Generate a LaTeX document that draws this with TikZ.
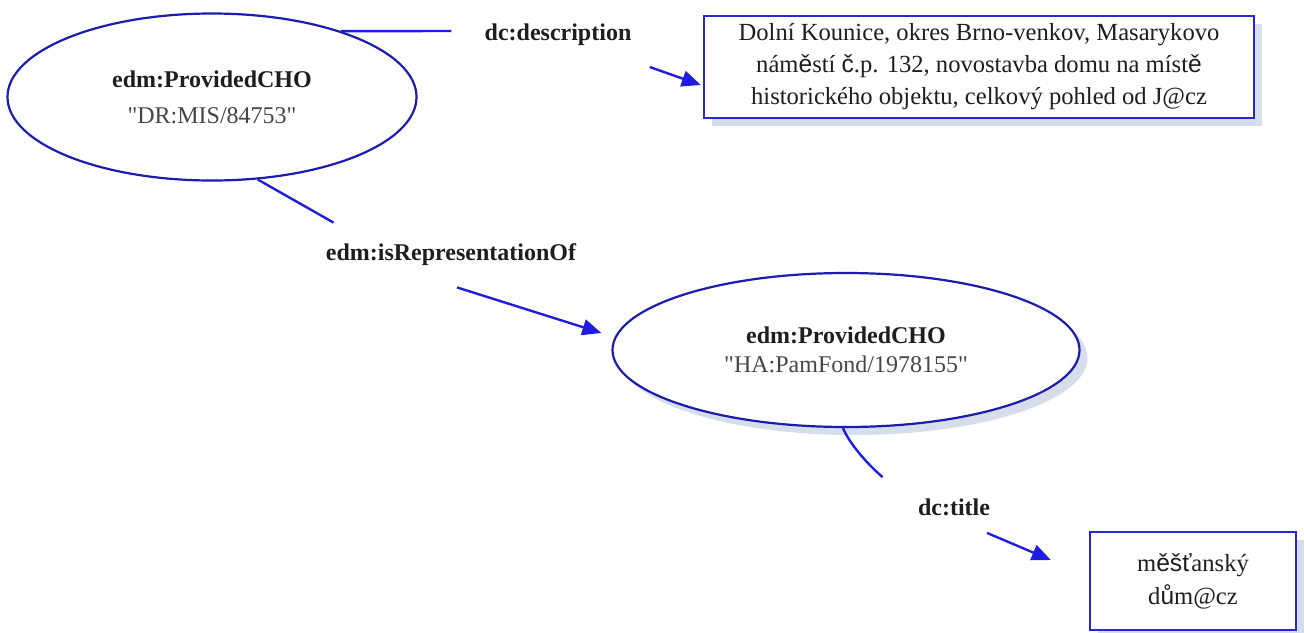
\documentclass[tikz,border=0pt]{standalone}
\usepackage{fontspec}
\setmainfont{Liberation Serif}[Ligatures=TeXOff]
\newfontfamily\fbk{Liberation Sans}
\usetikzlibrary{shapes.geometric,arrows.meta,shadows}
\definecolor{elc}{RGB}{28,28,175}
\definecolor{boxc}{RGB}{40,40,210}
\definecolor{arc}{RGB}{30,30,225}
\definecolor{shd}{RGB}{214,221,235}
\definecolor{labc}{RGB}{30,30,30}
\definecolor{valc}{RGB}{70,70,70}
\tikzset{
  resnode/.style={ellipse, draw=elc, line width=1.1pt, fill=white, inner sep=0pt, align=center,
    font=\fontsize{12}{14.4}\selectfont},
  litbox/.style={rectangle, draw=boxc, line width=1.2pt, fill=white, inner sep=0pt, align=center,
    text=labc},
  plabel/.style={font=\fontsize{12}{14.4}\selectfont\bfseries, text=labc, inner sep=0pt},
  link/.style={draw=arc, line width=1.2pt},
  linkarr/.style={link, -{Triangle[length=9.5pt,width=8pt]}},
  shad/.style={drop shadow={shadow xshift=4pt, shadow yshift=-4pt, fill=shd, opacity=1}},
}
\begin{document}
\begin{tikzpicture}[x=0.5pt,y=-0.5pt]
  \fill[white] (0,0) rectangle (1304,632);
  \useasboundingbox (0,0) rectangle (1304,632);

  % resource nodes
  \node[resnode, minimum width=204.5pt, minimum height=83.5pt] (e1) at (212,97)
    {{\bfseries\color{labc}edm:ProvidedCHO}\\[3.6pt]{\color{valc}"DR:MIS/84753"}};
  \node[resnode, shad, minimum width=233.5pt, minimum height=77pt] (e2) at (846,350)
    {{\bfseries\color{labc}edm:ProvidedCHO}\\{\color{valc}"HA:PamFond/1978155"}};

  % literal boxes
  \node[litbox, shad, minimum width=275pt, minimum height=51pt,
        font=\fontsize{12.3}{16}\selectfont] (b1) at (979,67)
    {Dolní Kounice, okres Brno-venkov, Masarykovo\\
     nám{\fbk ě}stí {\fbk č}.p. 132, novostavba domu na míst{\fbk ě}\\
     historického objektu, celkový pohled od J@cz};
  \node[litbox, shad, minimum width=103pt, minimum height=49pt,
        font=\fontsize{12.3}{16.5}\selectfont] (b2) at (1193,581)
    {m{\fbk ěšť}anský\\d{\fbk ů}m@cz};

  % property labels
  \node[plabel] (l1) at (558,35) {dc:description};
  \node[plabel] (l2) at (451,255) {edm:isRepresentationOf};
  \node[plabel] (l3) at (954,507) {dc:title};

  % connectors
  \draw[link] (e1.27) -- ([shift={(-33,-4)}]l1.west);
  \draw[linkarr] ([shift={(18,32)}]l1.east) -- ([shift={(-2,18)}]b1.west);

  \draw[link] (e1.-61) -- ([shift={(8,-21)}]l2.north west);
  \draw[linkarr] ([shift={(6,21)}]l2.south) -- ([shift={(-10,-17)}]e2.west);

  \draw[link] ([shift={(-3,0)}]e2.south) to[out=-68,in=140,looseness=0.7] ([shift={(-35,-21)}]l3.north west);
  \draw[linkarr] ([shift={(33,17)}]l3.south) -- ([shift={(-38,-21)}]b2.west);
\end{tikzpicture}
\end{document}
